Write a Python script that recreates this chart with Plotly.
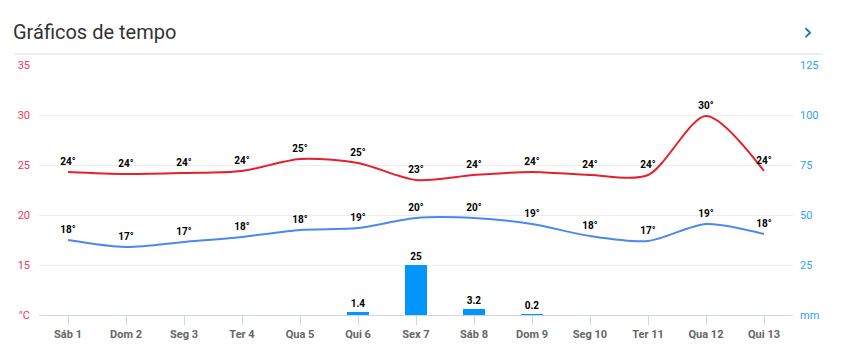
import plotly.graph_objects as go

days = ["Sáb 1", "Dom 2", "Seg 3", "Ter 4", "Qua 5", "Qui 6", "Sex 7",
        "Sáb 8", "Dom 9", "Seg 10", "Ter 11", "Qua 12", "Qui 13"]
temp_max = [24.3, 24.1, 24.2, 24.4, 25.6, 25.2, 23.5, 24.0, 24.3, 24.0, 24.0, 29.9, 24.4]
temp_min = [17.5, 16.8, 17.3, 17.8, 18.5, 18.7, 19.7, 19.7, 19.1, 17.9, 17.4, 19.1, 18.1]
label_max = [24, 24, 24, 24, 25, 25, 23, 24, 24, 24, 24, 30, 24]
label_min = [18, 17, 17, 18, 18, 19, 20, 20, 19, 18, 17, 19, 18]
precip = [0, 0, 0, 0, 0, 1.4, 25, 3.2, 0.2, 0, 0, 0, 0]

temp_ticks = [10, 15, 20, 25, 30, 35]
temp_ticktext = ["°C", "15", "20", "25", "30", "35"]
rain_ticks = [0, 25, 50, 75, 100, 125]
rain_ticktext = ["mm", "25", "50", "75", "100", "125"]

# page has an 8px body margin; figure coordinates are page coordinates minus 8
OFF = 8
W, H = 845 - 2 * OFF, 356 - 2 * OFF
L = 39 - OFF
T = 65 - OFF
R = W - (793 - OFF)
B = H - (315 - OFF)
PW, PH = W - L - R, H - T - B

label_font = dict(family="Roboto, Arial, sans-serif", size=10, color="#000000", weight="bold")

fig = go.Figure()

fig.add_trace(go.Bar(
    x=days, y=precip, yaxis="y2", width=0.38,
    marker=dict(color="#0095ff", line=dict(width=0)),
    text=[(f"{v:g}" if v > 0 else "") for v in precip],
    textposition="outside", textfont=label_font, cliponaxis=False,
    showlegend=False,
))

fig.add_trace(go.Scatter(
    x=days, y=temp_max, mode="lines+markers+text",
    line=dict(color="#e5202b", width=2, shape="spline", smoothing=0.8),
    marker=dict(size=5, opacity=0),
    text=[f"{v}°" for v in label_max], textposition="top center",
    textfont=label_font, cliponaxis=False, showlegend=False,
))
fig.add_trace(go.Scatter(
    x=days, y=temp_min, mode="lines+markers+text",
    line=dict(color="#4a89f0", width=2, shape="spline", smoothing=0.8),
    marker=dict(size=5, opacity=0),
    text=[f"{v}°" for v in label_min], textposition="top center",
    textfont=label_font, cliponaxis=False, showlegend=False,
))

fig.update_layout(
    width=W, height=H, autosize=False,
    margin=dict(l=L, r=R, t=T, b=B, pad=0, autoexpand=False),
    paper_bgcolor="white", plot_bgcolor="white",
    font=dict(family="Roboto, Arial, sans-serif"),
    bargap=0,
    xaxis=dict(
        type="category", range=[-0.5, 12.5], automargin=False,
        showline=True, linecolor="#ccd6eb", linewidth=1,
        ticks="outside", ticklen=9, tickcolor="#ccd6eb", tickwidth=1,
        tickfont=dict(family="Roboto, Arial, sans-serif", size=11, color="#666666", weight="bold"),
        showgrid=False, zeroline=False, fixedrange=True,
    ),
    yaxis=dict(
        range=[10, 35], tickvals=temp_ticks, ticktext=temp_ticktext, automargin=False,
        tickfont=dict(size=11, color="#f4365a"),
        showgrid=True, gridcolor="#ececec", gridwidth=1,
        zeroline=False, ticks="", ticklabelstandoff=8,
    ),
    yaxis2=dict(
        range=[0, 125], tickvals=rain_ticks, ticktext=rain_ticktext, automargin=False,
        overlaying="y", side="right",
        tickfont=dict(size=11, color="#2aa2f6"),
        showgrid=False, zeroline=False, ticks="", ticklabelstandoff=6,
    ),
    title=dict(
        text="Gráficos de tempo", xref="container", yref="container",
        x=(13 - OFF) / W, xanchor="left", y=1 - (32 - OFF) / H, yanchor="middle",
        font=dict(family="Roboto, Arial, sans-serif", size=20, color="#333333"),
        automargin=False,
    ),
)

fig.add_annotation(
    xref="paper", yref="paper", x=(808 - OFF - L) / PW, y=(H - B - (32 - OFF)) / PH,
    text="›", showarrow=False, xanchor="center", yanchor="middle",
    font=dict(family="DejaVu Sans, sans-serif", size=24, color="#1273b8"),
)
fig.add_shape(
    type="line", xref="paper", yref="paper",
    x0=(14 - OFF - L) / PW, x1=(823 - OFF - L) / PW,
    y0=(H - B - (54 - OFF)) / PH, y1=(H - B - (54 - OFF)) / PH,
    line=dict(color="#dddddd", width=1),
)

fig.write_html("out.html")
